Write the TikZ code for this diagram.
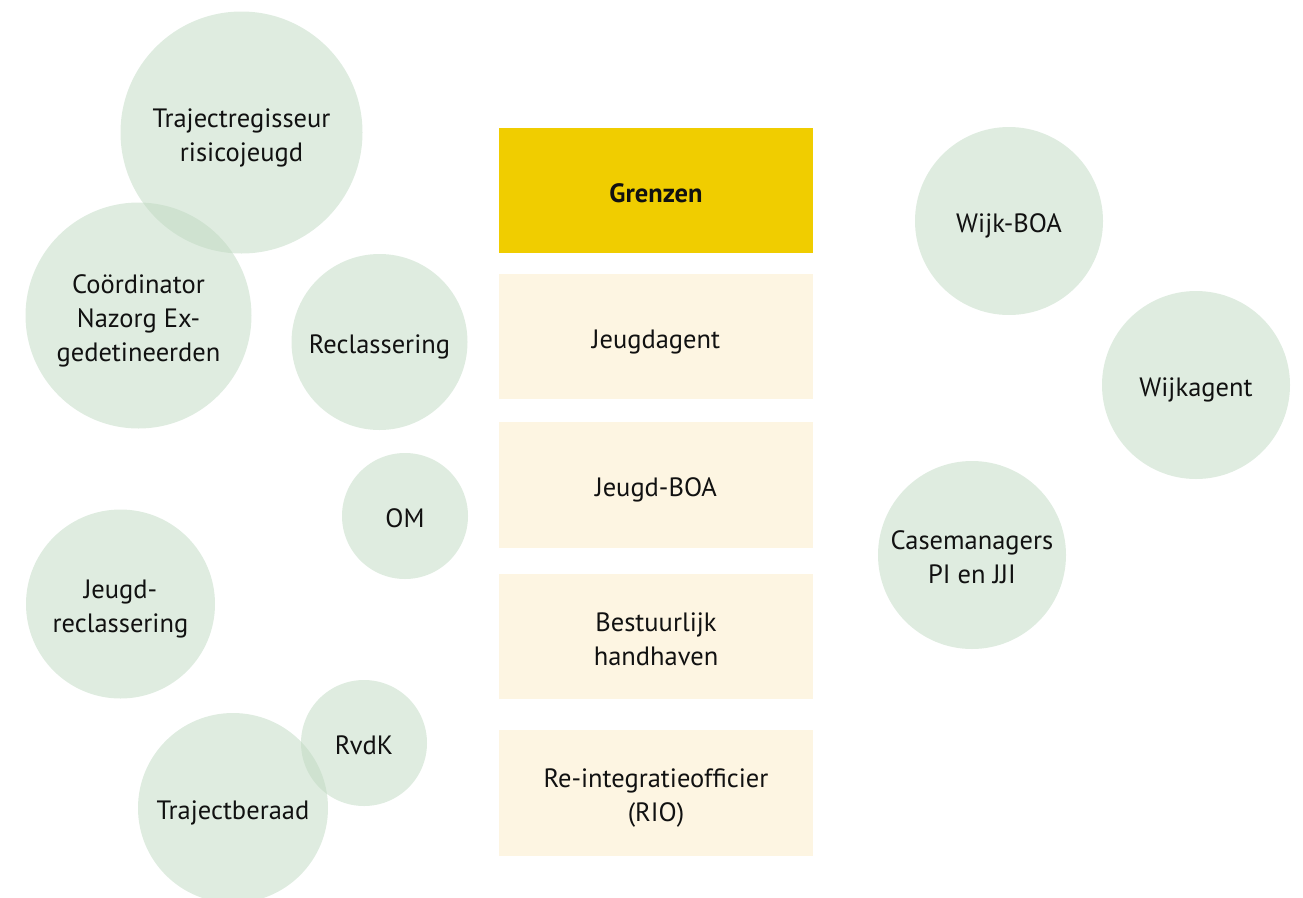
\documentclass[tikz,border=0pt]{standalone}
\usepackage{fontspec}
\setmainfont{PT Sans}
\usepackage{xcolor}
\usepackage{tikz}
\usetikzlibrary{shapes,positioning,calc}

\definecolor{circlegreen}{HTML}{BFD9C1}
\definecolor{boxcream}{HTML}{FDF5E2}
\definecolor{boxyellow}{HTML}{F0CD00}
\definecolor{textdark}{HTML}{111111}

\begin{document}
\begin{tikzpicture}[x=1pt, y=-1pt,
    font=\fontsize{26.5}{34}\selectfont, text=textdark,
    every node/.style={execute at begin node={\rule{0pt}{31pt}}, execute at end node={\rule[-7.2pt]{0pt}{7.2pt}}},
    regels/.style={execute at begin node={\rule{0pt}{#1}}},
    actor/.style={circle, fill=circlegreen, fill opacity=0.5, text opacity=1, inner sep=0pt, align=center},
    taak/.style={rectangle, fill=boxcream, minimum width=314pt, minimum height=125.5pt, inner sep=0pt, align=center},
    kop/.style={taak, fill=boxyellow, font=\fontsize{26.5}{34}\selectfont\bfseries}]
    \useasboundingbox (0,0) rectangle (1303,897);
    \clip (0,0) rectangle (1303,897);

    % Left actors
    \node[actor, regels=65pt, minimum size=242pt] (TR) at (241.5,132.5) {Trajectregisseur\\risicojeugd};
    \node[actor, regels=99pt, minimum size=226pt] (CN) at (138.5,315.5) {Coördinator\\Nazorg Ex-\\gedetineerden};
    \node[actor, minimum size=176pt] (RC) at (379.5,342) {Reclassering};
    \node[actor, minimum size=126pt] (OM) at (405,516) {OM};
    \node[actor, regels=65pt, minimum size=189pt] (JR) at (120.5,604) {Jeugd-\\reclassering};
    \node[actor, minimum size=126pt] (RK) at (364,743) {RvdK};
    \node[actor, minimum size=190pt] (TB) at (233,808) {Trajectberaad};

    % Tasks
    \node[kop] (GR) at (656,190.5) {Grenzen};
    \node[taak] (JA) at (656,336.5) {Jeugdagent};
    \node[taak] (JB) at (656,485) {Jeugd-BOA};
    \node[taak, regels=65pt] (BH) at (656,636.5) {Bestuurlijk\\handhaven};
    \node[taak, regels=65pt] (RI) at (656,793) {Re-integratieofficier\\(RIO)};

    % Right actors
    \node[actor, minimum size=188pt] (WB) at (1009,221) {Wijk-BOA};
    \node[actor, minimum size=188pt] (WA) at (1196,385) {Wijkagent};
    \node[actor, regels=65pt, minimum size=188pt] (CM) at (972,555) {Casemanagers\\PI en JJI};

\end{tikzpicture}
\end{document}
